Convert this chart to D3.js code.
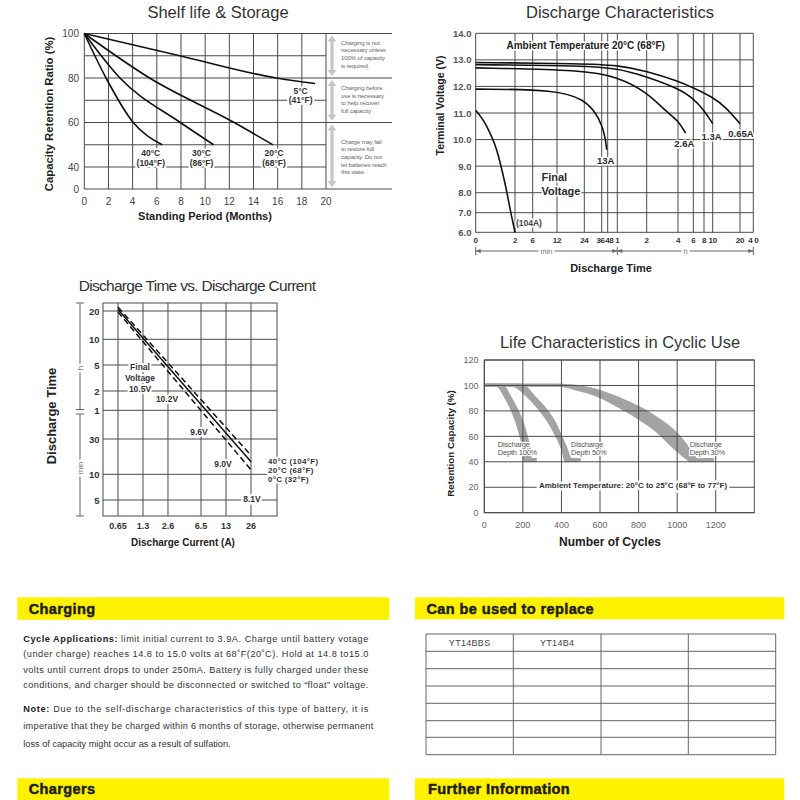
<!DOCTYPE html>
<html><head><meta charset="utf-8">
<script src="https://cdn.jsdelivr.net/npm/d3@7"></script>
<style>
body{margin:0;background:#fff}
svg{display:block}
text{font-family:"Liberation Sans",Arial,Helvetica,sans-serif}
</style>
</head><body>
<svg id="c" width="800" height="800"></svg>
<script>
// ---------------- DATA ----------------
// Shelf life & Storage (months, % retention)
const shelfMonthTicks = [0,2,4,6,8,10,12,14,16,18,20];
const shelfGridLevels = [0,40,50,60,70,80,90,100];
const shelfYTickLabels = [0,40,60,80,100];
const shelf5C  = [[0,100],[7.9,90],[15.9,80],[19.1,77.5]];
const shelf20C = [[0,100],[5.4,80],[12.4,60],[15.6,50]];
const shelf30C = [[0,100],[2.95,80],[7.95,60],[10.7,50]];
const shelf40C = [[0,100],[1.8,80],[4.05,60],[6.45,50]];
const shelfZones = [[100,80],[80,60],[60,0]];
const shelfNotes = [
  ["Charging is not","necessary unless","100% of capacity","is required."],
  ["Charging before","use is necessary","to help recover","full capacity"],
  ["Charge may fail","to restore full","capacity. Do not","let batteries reach","this state"]
];

// Discharge characteristics (minutes, volts)
const dchTimeTicks = [0,2,6,12,24,36,48,60,120,240,360,480,600,1200,2400];
const dchTimeLabels = ["0","2","6","12","24","36","48","1","2","4","6","8","10","20","4 0"];
const dchVoltTicks = [6,7,8,9,10,11,12,13,14];
const dch104A = [[0,11.1],[0.56,10.5],[1.07,9.6],[1.49,8.35],[1.83,6.8],[2,6.0]];
const dch13A  = [[0,11.9],[12,11.88],[24,11.5],[32,11.0],[36,10.55],[43,10.1],[46,9.62]];
const dch2_6A = [[0,12.7],[24,12.62],[60,12.36],[120,11.8],[200,11.0],[240,10.72],[300,10.24]];
const dch1_3A = [[0,12.82],[24,12.78],[60,12.68],[120,12.37],[240,11.93],[360,11.55],[480,11.1],[600,10.6]];
const dch0_65A= [[0,12.9],[24,12.86],[60,12.8],[120,12.58],[240,12.2],[360,11.95],[600,11.6],[900,11.2],[1200,10.6]];

// Discharge time vs current (amps, hours)
const dtcCurrentTicks = [0.65,1.3,2.6,6.5,13,26];
const dtcTimeTicks = [20,10,5,2,1,0.5,1/6,1/12];
const dtcTimeLabels = ["20","10","5","2","1","30","10","5"];
const dtc40C = [[0.65,22],[26,18/60]];
const dtc20C = [[0.65,20.8],[26,14.8/60]];
const dtc0C  = [[0.65,19.5],[26,11.5/60]];

// Life characteristics in cyclic use (cycles, %)
const lifeCycleTicks = [0,200,400,600,800,1000,1200];
const lifeCapTicks = [0,20,40,60,80,100,120];
const depth100Outer = [[0,101.5],[90,101.5],[145,90],[180,80],[207,70],[226,60],[240,50],[248,40]];
const depth100Inner = [[0,99],[60,99],[105,90],[138,80],[163,70],[182,60],[196,50],[203,40]];
const depth50Outer  = [[0,101.5],[190,101.5],[275,90],[333,80],[375,70],[405,60],[433,50],[455,40]];
const depth50Inner  = [[0,99],[140,99],[225,90],[285,80],[332,70],[368,60],[397,50],[415,40]];
const depth30Outer  = [[0,101.5],[350,101.5],[500,100],[600,96.5],[700,91],[800,84],[900,75],[1000,63],[1060,52],[1112,40]];
const depth30Inner  = [[0,99],[380,99],[500,95],[600,90],[700,82],[800,73],[900,62],[960,53],[1020,45],[1062,40]];
const depthFeet = [[203,272],[415,500],[1062,1190]];

// Text sections
const replaceModels = ["YT14BBS","YT14B4"];

// ---------------- DRAW ----------------
const svg = d3.select("#c");
const INK = "#2a2a2a", GRID = "#4a4a4a";

function txt(g,x,y,s,o={}){
  const t=g.append("text").attr("x",x).attr("y",y).text(s)
    .attr("font-size",o.size||10).attr("font-weight",o.bold?"bold":"normal")
    .attr("fill",o.fill||INK).attr("text-anchor",o.anchor||"start");
  if(o.halo) t.attr("stroke","#fff").attr("stroke-width",o.halo).attr("paint-order","stroke").attr("stroke-linejoin","round");
  if(o.rotate) t.attr("transform",`rotate(-90,${x},${y})`);
  if(o.ls!==undefined) t.attr("letter-spacing",o.ls);
  return t;
}
function ln(g,x1,y1,x2,y2,o={}){
  return g.append("line").attr("x1",x1).attr("y1",y1).attr("x2",x2).attr("y2",y2)
    .attr("stroke",o.stroke||GRID).attr("stroke-width",o.w||1)
    .attr("stroke-dasharray",o.dash||null);
}

// ===== Panel 1: Shelf life =====
{
  const g=svg.append("g");
  const x=d3.scaleLinear().domain([0,20]).range([84.3,326]);
  const y=d3.scaleLinear().domain([0,40,100]).range([189,167,33.5]);
  shelfMonthTicks.forEach(m=>ln(g,x(m),y(100),x(m),y(0)));
  shelfGridLevels.forEach(v=>ln(g,x(0),y(v),[100,80,60,0].includes(v)?392:x(20),y(v)));
  const line=d3.line().x(d=>x(d[0])).y(d=>y(d[1])).curve(d3.curveMonotoneX);
  [shelf5C,shelf20C,shelf30C,shelf40C].forEach(d=>g.append("path").attr("d",line(d))
     .attr("fill","none").attr("stroke","#111").attr("stroke-width",1.6));
  const ax=332;
  shelfZones.forEach(([a,b])=>{
    const t=y(a)+2,bt=y(b)-2;
    g.append("rect").attr("x",ax-1.6).attr("y",t+5).attr("width",3.2).attr("height",bt-t-10).attr("fill","#c6c6c6");
    g.append("path").attr("d",`M${ax},${t}L${ax-4.5},${t+6}L${ax+4.5},${t+6}Z`).attr("fill","#c6c6c6");
    g.append("path").attr("d",`M${ax},${bt}L${ax-4.5},${bt-6}L${ax+4.5},${bt-6}Z`).attr("fill","#c6c6c6");
  });
  const noteTop=[42.5,88,141.5];
  shelfNotes.forEach((blk,i)=>blk.forEach((s,j)=>txt(g,341,noteTop[i]+j*7.7+2,s,{size:6.1,fill:"#666",ls:-0.15})));
  const lab=[["5°C","(41°F)",17.9,72],["40°C","(104°F)",5.5,44],["30°C","(86°F)",9.7,44],["20°C","(68°F)",15.7,44]];
  lab.forEach(([a,b,m,v])=>{
    txt(g,x(m),y(v)-2,a,{size:8.5,bold:true,anchor:"middle",halo:4,fill:"#333"});
    txt(g,x(m),y(v)+7.5,b,{size:8.5,bold:true,anchor:"middle",halo:4,fill:"#333"});
  });
  shelfMonthTicks.forEach(m=>txt(g,x(m),205,m,{size:10,anchor:"middle",fill:"#444"}));
  shelfYTickLabels.forEach(v=>txt(g,79,y(v)+3.5,v,{size:10,anchor:"end",fill:"#444"}));
  txt(g,218,18,"Shelf life & Storage",{size:16.5,anchor:"middle",fill:"#333"});
  txt(g,53,114,"Capacity Retention Ratio (%)",{size:11.3,bold:true,anchor:"middle",rotate:true,fill:"#222"});
  txt(g,205,220,"Standing Period (Months)",{size:11,bold:true,anchor:"middle",fill:"#222"});
}

// ===== Panel 2: Discharge Characteristics =====
{
  const g=svg.append("g");
  const x=d3.scaleLinear().domain(dchTimeTicks)
     .range([475.7,515,532.7,557,584.3,601.7,607.7,617.3,646.7,678,693.3,704,712.7,740,753.3]);
  const y=d3.scaleLinear().domain([6,7,8,14]).range([232.3,212.7,192.7,33.3]);
  dchVoltTicks.forEach(v=>ln(g,x(0),y(v),x(2400),y(v)));
  dchTimeTicks.forEach(t=>ln(g,x(t),y(14),x(t),y(6)));
  const line=d3.line().x(d=>x(d[0])).y(d=>y(d[1])).curve(d3.curveBasis);
  const line2=d3.line().x(d=>x(d[0])).y(d=>y(d[1])).curve(d3.curveMonotoneX);
  g.append("path").attr("d",line2(dch104A)).attr("fill","none").attr("stroke","#111").attr("stroke-width",1.6);
  [dch13A,dch2_6A,dch1_3A,dch0_65A].forEach(d=>g.append("path").attr("d",line(d))
     .attr("fill","none").attr("stroke","#111").attr("stroke-width",1.6));
  txt(g,506.5,48.5,"Ambient Temperature 20°C (68°F)",{size:10,bold:true,fill:"#222",halo:3});
  txt(g,x(44),164,"13A",{size:9.5,bold:true,anchor:"middle",halo:3});
  txt(g,x(290),147,"2.6A",{size:9.5,bold:true,anchor:"middle",halo:3});
  txt(g,x(585),140,"1.3A",{size:9.5,bold:true,anchor:"middle",halo:3});
  txt(g,x(1280),136.5,"0.65A",{size:9.5,bold:true,anchor:"middle",halo:3});
  txt(g,541.5,181,"Final",{size:11,bold:true,halo:3});
  txt(g,541.5,195,"Voltage",{size:11,bold:true,halo:3});
  txt(g,x(2.2),226,"(104A)",{size:8.5,bold:true,fill:"#444",halo:3});
  dchVoltTicks.forEach(v=>txt(g,471.5,y(v)+3.5,v.toFixed(1),{size:9.5,anchor:"end",fill:"#555",bold:true}));
  dchTimeTicks.forEach((t,i)=>{
    let anchor="middle", xx=x(t);
    if(t===36){anchor="end"; xx=x(t)+3;}
    if(t===48){anchor="start"; xx=x(t)-2.5;}
    txt(g,xx,243,dchTimeLabels[i],{size:8,bold:true,anchor:anchor,fill:"#333",ls:-0.3});
  });
  const by=251, xa=x(0), xm=x(60), xb=x(2400);
  ln(g,xa,by,xb,by,{stroke:"#666"});
  [xa,xm,xb].forEach(p=>ln(g,p,by-4,p,by+4,{stroke:"#666"}));
  [[xa,1],[xm,-1],[xm,1],[xb,-1]].forEach(([p,s])=>g.append("path")
     .attr("d",`M${p},${by}L${p+s*5},${by-2}L${p+s*5},${by+2}Z`).attr("fill","#666"));
  txt(g,(xa+xm)/2,254,"min",{size:7.5,anchor:"middle",fill:"#777",halo:5});
  txt(g,685.7,254,"h",{size:7.5,anchor:"middle",fill:"#777",halo:5});
  txt(g,620,18,"Discharge Characteristics",{size:16.5,anchor:"middle",fill:"#333"});
  txt(g,444,105.5,"Terminal Voltage (V)",{size:10.5,bold:true,anchor:"middle",rotate:true,fill:"#222"});
  txt(g,611,272,"Discharge Time",{size:11,bold:true,anchor:"middle",fill:"#222"});
}

// ===== Panel 3: Discharge Time vs Current =====
{
  const g=svg.append("g");
  const x=d3.scaleLog().domain([0.65,26]).range([118,251]);
  const y=d3.scaleLog().domain(dtcTimeTicks).range([311,339.3,365,391,410.3,439,474.3,500]);
  const L=103,R=277,T=303,B=516;
  g.append("rect").attr("x",L).attr("y",T).attr("width",R-L).attr("height",B-T).attr("fill","none").attr("stroke",GRID);
  dtcCurrentTicks.forEach(c=>ln(g,x(c),T,x(c),B));
  dtcTimeTicks.forEach(t=>ln(g,L,y(t),R,y(t)));
  const line=d3.line().x(d=>x(d[0])).y(d=>y(d[1]));
  g.append("path").attr("d",line(dtc40C)).attr("fill","none").attr("stroke","#111").attr("stroke-width",1.5).attr("stroke-dasharray","6,3.5");
  g.append("path").attr("d",line(dtc20C)).attr("fill","none").attr("stroke","#111").attr("stroke-width",1.5);
  g.append("path").attr("d",line(dtc0C)).attr("fill","none").attr("stroke","#111").attr("stroke-width",1.5).attr("stroke-dasharray","6,3.5");
  txt(g,140,370,"Final",{size:8.5,bold:true,anchor:"middle",fill:"#333",halo:4});
  txt(g,140,381,"Voltage",{size:8.5,bold:true,anchor:"middle",fill:"#333",halo:4});
  txt(g,140,392,"10.5V",{size:8.5,bold:true,anchor:"middle",fill:"#333",halo:4});
  txt(g,167,401.5,"10.2V",{size:8.5,bold:true,anchor:"middle",fill:"#333",halo:4});
  txt(g,199,435,"9.6V",{size:8.5,bold:true,anchor:"middle",fill:"#333",halo:4});
  txt(g,223,466.5,"9.0V",{size:8.5,bold:true,anchor:"middle",fill:"#333",halo:4});
  txt(g,252,502,"8.1V",{size:8.5,bold:true,anchor:"middle",fill:"#333",halo:5});
  txt(g,268,464.3,"40°C (104°F)",{size:7.9,bold:true,fill:"#333",halo:4,ls:0.35});
  txt(g,268,473.2,"20°C   (68°F)",{size:7.9,bold:true,fill:"#333",halo:4,ls:0.35});
  txt(g,268,482.1,"0°C   (32°F)",{size:7.9,bold:true,fill:"#333",halo:4,ls:0.35});
  dtcTimeTicks.forEach((t,i)=>txt(g,99.5,y(t)+3.5,dtcTimeLabels[i],{size:9.5,bold:true,anchor:"end",fill:"#333"}));
  dtcCurrentTicks.forEach(c=>txt(g,x(c),528.5,c,{size:9,bold:true,anchor:"middle",fill:"#333"}));
  const bx=80;
  ln(g,bx,T,bx,409.5,{stroke:"#666"}); ln(g,bx,414,bx,B,{stroke:"#666"});
  [T,409.5,414,B].forEach(p=>ln(g,bx-4,p,bx+4,p,{stroke:"#666"}));
  txt(g,bx+3,368,"h",{size:8,anchor:"middle",fill:"#777",rotate:true,halo:5});
  txt(g,bx+3,468,"min",{size:8,anchor:"middle",fill:"#777",rotate:true,halo:5});
  txt(g,197,291,"Discharge Time vs. Discharge Current",{size:15.5,anchor:"middle",fill:"#333",ls:-0.7});
  txt(g,56,416,"Discharge Time",{size:13,bold:true,anchor:"middle",rotate:true,fill:"#222"});
  txt(g,183,546,"Discharge Current (A)",{size:10,bold:true,anchor:"middle",fill:"#222"});
}

// ===== Panel 4: Life characteristics =====
{
  const g=svg.append("g");
  const x=d3.scaleLinear().domain([0,1400]).range([484.3,754.3]);
  const y=d3.scaleLinear().domain([0,120]).range([512.7,360]);
  const line=d3.line().x(d=>x(d[0])).y(d=>y(d[1])).curve(d3.curveMonotoneX);
  const band=(o,i)=>line(o)+"L"+line(i.slice().reverse()).slice(1)+"Z";
  const BAND="#a3a3a3";
  [[depth100Outer,depth100Inner],[depth50Outer,depth50Inner],[depth30Outer,depth30Inner]]
    .forEach(([o,i])=>g.append("path").attr("d",band(o,i)).attr("fill",BAND));
  depthFeet.forEach(([a,b])=>g.append("rect").attr("x",x(a)).attr("y",y(43)).attr("width",x(b)-x(a)).attr("height",y(40)-y(43)).attr("fill",BAND));
  g.append("rect").attr("x",x(0)).attr("y",y(120)).attr("width",x(1400)-x(0)).attr("height",y(0)-y(120)).attr("fill","none").attr("stroke",GRID);
  lifeCycleTicks.forEach(c=>ln(g,x(c),y(120),x(c),y(0)));
  lifeCapTicks.forEach(v=>ln(g,x(0),y(v),x(1400),y(v)));
  [[70,"100%"],[450,"50%"],[1065,"30%"]].forEach(([c,p])=>{
    txt(g,x(c),446.5,"Discharge",{size:7.5,fill:"#555",halo:2.5,ls:-0.2});
    txt(g,x(c),454.5,"Depth "+p,{size:7.5,fill:"#555",halo:2.5,ls:-0.2});
  });
  txt(g,633,487.5,"Ambient Temperature: 20°C to 25°C (68°F to 77°F)",{size:8,bold:true,anchor:"middle",fill:"#333",halo:5});
  lifeCycleTicks.forEach(c=>txt(g,x(c),527.5,c,{size:9,anchor:"middle",fill:"#666"}));
  lifeCapTicks.forEach(v=>txt(g,478.5,y(v)+3.2,v,{size:9,anchor:"end",fill:"#666"}));
  txt(g,620,348,"Life Characteristics in Cyclic Use",{size:16.5,anchor:"middle",fill:"#333"});
  txt(g,453.5,443.5,"Retention Capacity (%)",{size:9.8,bold:true,anchor:"middle",rotate:true,fill:"#222"});
  txt(g,610,545.5,"Number of Cycles",{size:12,bold:true,anchor:"middle",fill:"#222"});
}

// ===== Text sections =====
{
  const g=svg.append("g");
  const Y="#fff200";
  const bars=[[17.3,597.3,372,22.5,"Charging",28.7,613.5],[415,597.3,369.3,22,"Can be used to replace",426.5,613.5],
              [17.3,778.3,372,30,"Chargers",28.7,794],[415,778.3,369.3,30,"Further Information",428,794]];
  bars.forEach(([bx,by,bw,bh,s,tx,ty])=>{
    g.append("rect").attr("x",bx).attr("y",by).attr("width",bw).attr("height",bh).attr("fill",Y);
    txt(g,tx,ty,s,{size:14.5,bold:true,fill:"#1e1e1e",ls:0.4}).attr("stroke","#1e1e1e").attr("stroke-width",0.5);
  });
  const para=[
    [641.5,[["Cycle Applications:",true],[" limit initial current to 3.9A. Charge until battery votage",false]]],
    [656.8,[["(under charge) reaches 14.8 to 15.0 volts at 68˚F(20˚C). Hold at 14.8 to15.0",false]]],
    [672.5,[["volts until current drops to under 250mA. Battery is fully charged under these",false]]],
    [688.2,[["conditions, and charger should be disconnected or switched to “float” voltage.",false]]],
    [711.5,[["Note:",true],[" Due to the self-discharge characteristics of this type of battery, it is",false]]],
    [729,[["imperative that they be charged within 6 months of storage, otherwise permanent",false]]],
    [746.5,[["loss of capacity might occur as a result of sulfation.",false]]]
  ];
  const lens=[345,345,345,345,345,350,null];
  para.forEach(([yy,parts],i)=>{
    const t=g.append("text").attr("x",23.3).attr("y",yy).attr("font-size",9.2).attr("fill","#333");
    if(lens[i]) t.attr("textLength",lens[i]).attr("lengthAdjust","spacing");
    parts.forEach(([s,b])=>t.append("tspan").text(s).attr("font-weight",b?"bold":"normal").attr("fill",b?"#222":"#333"));
  });
  const cols=[426,513.3,601,688.3,775.7], rows=[634,651.3,668.7,686,703.3,720.7,737.3,754.7];
  rows.forEach(r=>ln(g,cols[0],r,cols[4],r,{stroke:"#666"}));
  cols.forEach(c=>ln(g,c,rows[0],c,rows[rows.length-1],{stroke:"#666"}));
  replaceModels.forEach((m,i)=>txt(g,(cols[i]+cols[i+1])/2,646,m,{size:9,anchor:"middle",fill:"#444",ls:0.3}));
}
</script>
</body></html>
